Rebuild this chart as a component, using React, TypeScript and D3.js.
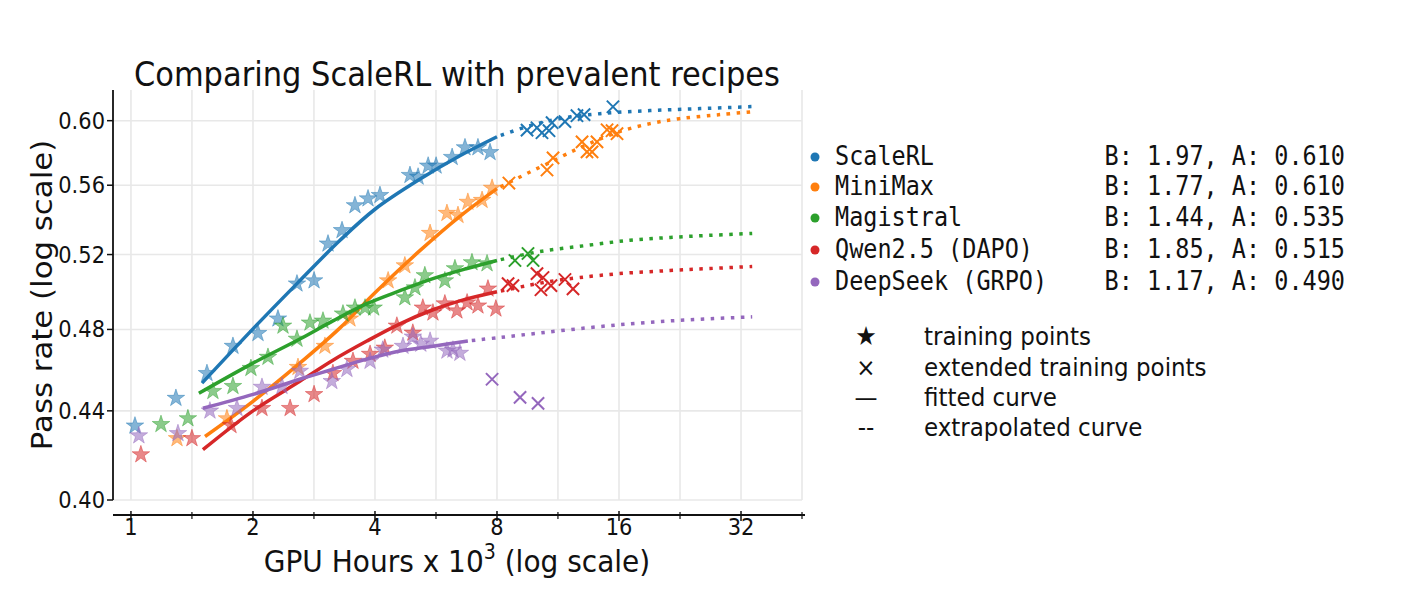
import { useEffect, useRef } from 'react';
import * as d3 from 'd3';

type Pt = [number, number];

const seriesNames = ['ScaleRL', 'MiniMax', 'Magistral', 'Qwen2.5 (DAPO)', 'DeepSeek (GRPO)'];
const fitB = ['1.97', '1.77', '1.44', '1.85', '1.17'];
const fitA = ['0.610', '0.610', '0.535', '0.515', '0.490'];
const colors = ['#1f77b4', '#ff7f0e', '#2ca02c', '#d62728', '#9467bd'];

const xTicks = [1, 2, 4, 8, 16, 32];
const xGrid = [1, 1.414, 2, 2.828, 4, 5.657, 8, 11.31, 16, 22.63, 32, 45.25];
const yTicks = [0.40, 0.44, 0.48, 0.52, 0.56, 0.60];

const keySymbols = ['★', '×', '—', '--'];
const keyLabels = ['training points', 'extended training points', 'fitted curve', 'extrapolated curve'];

// ScaleRL
const scaleRLStars: Pt[] = [[1.023, 0.433], [1.291, 0.446], [1.54, 0.458], [1.785, 0.4715], [2.058, 0.478], [2.305, 0.4855], [2.568, 0.504], [2.83, 0.5057], [3.063, 0.526], [3.317, 0.5336], [3.57, 0.548], [3.845, 0.552], [4.115, 0.554], [4.88, 0.566], [5.11, 0.565], [5.41, 0.5717], [5.66, 0.5717], [6.2, 0.577], [6.67, 0.583], [7.18, 0.583], [7.69, 0.58]];
const scaleRLCross: Pt[] = [[9.49, 0.594], [10.04, 0.5955], [10.33, 0.5923], [10.75, 0.5936], [10.94, 0.5987], [11.77, 0.5994], [12.6, 0.6032], [13.12, 0.6039], [15.46, 0.609]];
const scaleRLFit: Pt[] = [[1.497, 0.4532], [2.0, 0.4803], [2.568, 0.5041], [3.28, 0.528], [4.0, 0.5458], [5.17, 0.5637], [6.48, 0.5779], [8, 0.5898]];
const scaleRLExtra: Pt[] = [[8, 0.5898], [9.65, 0.5968], [11.44, 0.6013], [14.36, 0.6045], [19.08, 0.6065], [25.35, 0.6078], [34.1, 0.6091]];

// MiniMax
const miniMaxStars: Pt[] = [[1.299, 0.4272], [1.725, 0.4364], [2.583, 0.461], [3.01, 0.4715], [3.47, 0.4855], [4.31, 0.5057], [4.74, 0.5139], [5.47, 0.532], [6.02, 0.5435], [6.41, 0.5423], [6.78, 0.55], [7.35, 0.5511], [7.78, 0.5583]];
const miniMaxCross: Pt[] = [[8.56, 0.5613], [10.63, 0.5692], [11.0, 0.5766], [12.97, 0.5866], [13.34, 0.5803], [13.73, 0.5803], [14.12, 0.5866], [14.95, 0.5942], [15.38, 0.5936], [15.82, 0.5917]];
const miniMaxFit: Pt[] = [[1.523, 0.4281], [2.0, 0.4445], [2.61, 0.463], [3.28, 0.4808], [4.0, 0.4992], [5.17, 0.5223], [6.48, 0.5417], [8, 0.558]];
const miniMaxExtra: Pt[] = [[8, 0.558], [8.76, 0.5628], [9.65, 0.568], [10.63, 0.5729], [11.91, 0.5791], [13.57, 0.5857], [16, 0.5929], [19.08, 0.5981], [22.6, 0.6013], [28.4, 0.6039], [34.3, 0.6058]];

// Magistral
const magistralStars: Pt[] = [[1.186, 0.4337], [1.382, 0.4364], [1.593, 0.4493], [1.785, 0.4517], [1.977, 0.4605], [2.178, 0.466], [2.372, 0.4818], [2.568, 0.4751], [2.765, 0.4834], [2.977, 0.4844], [3.335, 0.4881], [3.57, 0.4912], [3.78, 0.4912], [3.97, 0.4912], [4.74, 0.4966], [5.02, 0.5019], [5.31, 0.5085], [5.95, 0.5057], [6.3, 0.5123], [6.94, 0.5156], [7.56, 0.515]];
const magistralCross: Pt[] = [[8.86, 0.5167], [9.54, 0.5206], [9.82, 0.5167]];
const magistralFit: Pt[] = [[1.471, 0.4483], [2.0, 0.463], [2.61, 0.4751], [3.15, 0.4844], [3.82, 0.4934], [4.61, 0.5003], [5.56, 0.5068], [6.75, 0.5123], [8, 0.5167]];
const magistralExtra: Pt[] = [[8, 0.5167], [10.21, 0.5217], [13.34, 0.5251], [17.03, 0.528], [21.38, 0.5296], [26.83, 0.5308], [34.1, 0.5319]];

// Qwen2.5 (DAPO)
const qwenStars: Pt[] = [[1.058, 0.4199], [1.414, 0.4272], [1.765, 0.4332], [2.105, 0.4412], [2.47, 0.4412], [2.83, 0.4478], [3.15, 0.458], [3.53, 0.464], [3.89, 0.4675], [4.23, 0.4706], [4.53, 0.4818], [4.96, 0.4782], [5.25, 0.4912], [5.56, 0.4886], [5.95, 0.4934], [6.37, 0.4897], [6.75, 0.4939], [7.18, 0.4923], [7.6, 0.5013], [7.95, 0.4907]];
const qwenCross: Pt[] = [[8.52, 0.5041], [8.76, 0.503], [10.04, 0.5095], [10.39, 0.5074], [10.27, 0.5008], [10.87, 0.503], [11.77, 0.5063], [12.32, 0.5013]];
const qwenFit: Pt[] = [[1.505, 0.4221], [2.0, 0.44], [2.61, 0.4541], [3.15, 0.4645], [3.82, 0.4741], [4.61, 0.4829], [5.56, 0.4902], [6.48, 0.4949], [8, 0.4997]];
const qwenExtra: Pt[] = [[8, 0.4997], [9.49, 0.503], [11.12, 0.5057], [12.82, 0.5074], [16, 0.5095], [21.38, 0.5112], [26.83, 0.5123], [34.1, 0.5134]];

// DeepSeek (GRPO)
const deepSeekStars: Pt[] = [[1.046, 0.4285], [1.306, 0.4295], [1.566, 0.44], [1.826, 0.4412], [2.105, 0.4513], [2.358, 0.4517], [2.61, 0.4591], [3.13, 0.4541], [3.41, 0.46], [3.89, 0.464], [4.18, 0.4696], [4.69, 0.4715], [4.96, 0.4762], [5.19, 0.4726], [5.47, 0.4741], [6.02, 0.4691], [6.23, 0.4696], [6.48, 0.468]];
const deepSeekCross: Pt[] = [[7.78, 0.4551], [9.12, 0.4464], [10.1, 0.4435]];
const deepSeekFit: Pt[] = [[1.505, 0.4412], [2.0, 0.4478], [2.61, 0.4551], [3.15, 0.46], [3.82, 0.465], [4.61, 0.4691], [5.56, 0.4715], [6.78, 0.4741]];
const deepSeekExtra: Pt[] = [[6.78, 0.4741], [8.14, 0.4759], [10.21, 0.4782], [13.34, 0.4808], [17.03, 0.4829], [21.38, 0.4844], [26.83, 0.4855], [34.1, 0.4865]];

const starsBySeries = [scaleRLStars, miniMaxStars, magistralStars, qwenStars, deepSeekStars];
const crossBySeries = [scaleRLCross, miniMaxCross, magistralCross, qwenCross, deepSeekCross];
const fitBySeries = [scaleRLFit, miniMaxFit, magistralFit, qwenFit, deepSeekFit];
const extraBySeries = [scaleRLExtra, miniMaxExtra, magistralExtra, qwenExtra, deepSeekExtra];

const SANS = '"DejaVu Sans", sans-serif';
const MONO = '"DejaVu Sans Mono", monospace';
const STRETCH = 1.1; // the picture is a bit taller than wide

export default function App() {
  const ref = useRef<SVGSVGElement>(null);

  useEffect(() => {
    if (!ref.current) return;
    const svg = d3.select(ref.current);
    svg.selectAll('*').remove();

    const left = 113, right = 802, top = 90, bottom = 500;
    const axisY = 515;

    const x = d3.scaleLog().base(2).domain([0.903, 45.25]).range([left, right]);
    const y = d3.scaleLog().domain([0.40, 0.62]).range([bottom, top]);

    const text = (
      g: d3.Selection<any, unknown, null, undefined>,
      tx: number, ty: number, str: string, size: number,
      anchor = 'start', family = SANS, rotate = false,
    ) => g.append('text')
      .attr('transform', `translate(${tx},${ty}) scale(1,${STRETCH})${rotate ? ' rotate(-90)' : ''}`)
      .attr('text-anchor', anchor)
      .attr('font-family', family)
      .attr('font-size', size)
      .attr('fill', '#111')
      .text(str);

    svg.append('rect').attr('width', 1404).attr('height', 603).attr('fill', '#fff');

    // grid
    const grid = svg.append('g').attr('stroke', '#e8e8e8').attr('stroke-width', 1.6);
    grid.selectAll('line.h').data(yTicks).join('line')
      .attr('x1', left).attr('x2', right)
      .attr('y1', d => y(d)).attr('y2', d => y(d));
    grid.selectAll('line.v').data(xGrid).join('line')
      .attr('class', 'v')
      .attr('x1', d => x(d)).attr('x2', d => x(d))
      .attr('y1', top).attr('y2', bottom);

    // left spine + ticks
    const ax = svg.append('g').attr('stroke', '#111');
    ax.append('line').attr('x1', left).attr('x2', left).attr('y1', top).attr('y2', bottom).attr('stroke-width', 1.8);
    ax.selectAll('line.yt').data(yTicks).join('line')
      .attr('class', 'yt')
      .attr('x1', left - 6).attr('x2', left)
      .attr('y1', d => y(d)).attr('y2', d => y(d)).attr('stroke-width', 1.5);
    yTicks.forEach(t => text(svg, left - 8, y(t) + 8, t.toFixed(2), 21, 'end'));

    // bottom spine (offset) + ticks
    ax.append('line').attr('x1', left).attr('x2', 805).attr('y1', axisY).attr('y2', axisY).attr('stroke-width', 1.8);
    ax.selectAll('line.xt').data(xTicks).join('line')
      .attr('class', 'xt')
      .attr('x1', d => x(d)).attr('x2', d => x(d))
      .attr('y1', axisY - 4).attr('y2', axisY + 6).attr('stroke-width', 1.5);
    ax.selectAll('line.xm').data(xGrid.filter(v => !xTicks.includes(v))).join('line')
      .attr('class', 'xm')
      .attr('x1', d => x(d)).attr('x2', d => x(d))
      .attr('y1', axisY - 3).attr('y2', axisY + 4).attr('stroke-width', 1.2);
    xTicks.forEach(t => text(svg, x(t), 535, String(t), 21, 'middle'));

    // series
    const line = d3.line<Pt>().x(d => x(d[0])).y(d => y(d[1])).curve(d3.curveCatmullRom.alpha(0.5));
    const star = d3.symbol(d3.symbolStar, 95);
    const cross = d3.symbol(d3.symbolX, 100);

    seriesNames.forEach((_, i) => {
      const g = svg.append('g');
      const c = colors[i];
      g.selectAll('path.star').data(starsBySeries[i]).join('path')
        .attr('class', 'star')
        .attr('d', star)
        .attr('transform', d => `translate(${x(d[0])},${y(d[1])})`)
        .attr('fill', c).attr('fill-opacity', 0.55)
        .attr('stroke', c).attr('stroke-opacity', 0.55).attr('stroke-width', 0.8);
      g.selectAll('path.cross').data(crossBySeries[i]).join('path')
        .attr('class', 'cross')
        .attr('d', cross)
        .attr('transform', d => `translate(${x(d[0])},${y(d[1])})`)
        .attr('fill', 'none')
        .attr('stroke', c).attr('stroke-width', 2);
      g.append('path').datum(fitBySeries[i])
        .attr('d', line)
        .attr('fill', 'none').attr('stroke', c).attr('stroke-width', 3.5);
      g.append('path').datum(extraBySeries[i])
        .attr('d', line)
        .attr('fill', 'none').attr('stroke', c).attr('stroke-width', 3.5)
        .attr('stroke-dasharray', '3.5,6.5').attr('stroke-dashoffset', -4);
    });

    // titles
    text(svg, 457, 86, 'Comparing ScaleRL with prevalent recipes', 30.5, 'middle');
    const xl = text(svg, 457, 572, 'GPU Hours x 10', 28, 'middle');
    xl.append('tspan').attr('font-size', 19).attr('dy', -12).text('3');
    xl.append('tspan').attr('dy', 12).text(' (log scale)');
    text(svg, 52, 295, 'Pass rate (log scale)', 28, 'middle', SANS, true);

    // series legend
    const rows = [157, 187, 218, 250, 282];
    seriesNames.forEach((name, i) => {
      svg.append('circle').attr('cx', 815).attr('cy', rows[i]).attr('r', 4.5).attr('fill', colors[i]);
      text(svg, 835, rows[i] + 8, name, 23.5, 'start', MONO);
      text(svg, 1345, rows[i] + 8, `B: ${fitB[i]}, A: ${fitA[i]}`, 23.5, 'end', MONO);
    });

    // marker legend
    const keyRows = [337, 368, 398, 428];
    keyLabels.forEach((lab, i) => {
      text(svg, 866, keyRows[i] + 8, keySymbols[i], i === 0 ? 24 : 23, 'middle');
      text(svg, 924, keyRows[i] + 8, lab, 23, 'start');
    });
  }, []);

  return (
    <svg
      ref={ref}
      width={1404}
      height={603}
      style={{ position: 'absolute', left: 0, top: 0 }}
    />
  );
}
